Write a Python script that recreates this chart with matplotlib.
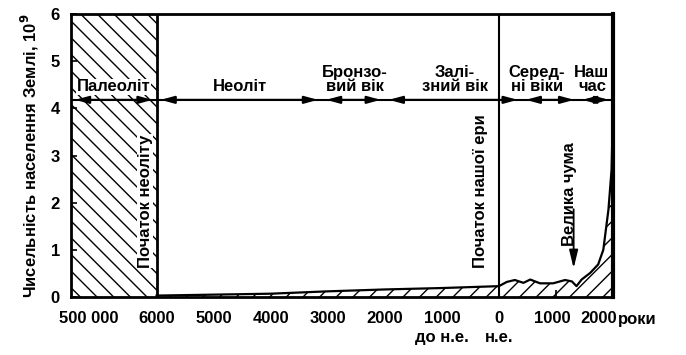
import matplotlib
matplotlib.use("Agg")
import matplotlib.pyplot as plt

plt.rcParams['font.family'] = ['Liberation Sans', 'DejaVu Sans']
plt.rcParams['font.weight'] = 'bold'
plt.rcParams['axes.labelweight'] = 'bold'
plt.rcParams['mathtext.default'] = 'bf'
plt.rcParams['hatch.linewidth'] = 1.0

# Population (billions) vs. year (negative = BC)
years = [-6000, -5000, -4000, -3000, -2000, -1000, -500, 0, 140, 280, 430, 550,
         720, 950, 1160, 1280, 1360, 1450, 1600, 1740, 1830, 1920, 1975, 1990, 2000]
pop = [0.03, 0.05, 0.07, 0.12, 0.16, 0.19, 0.21, 0.23, 0.32, 0.36, 0.30, 0.37,
       0.29, 0.29, 0.36, 0.33, 0.23, 0.37, 0.51, 0.69, 1.0, 1.85, 2.7, 3.5, 4.2]

# axis layout: compressed paleolithic strip drawn as [-7500, -6000]
label_pos = [-7184, -6000, -5000, -4000, -3000, -2000, -1000, 0, 930, 1755]
tick_labels = ['500 000', '6000', '5000', '4000', '3000', '2000', '1000', '0', '1000', '2000']
tick_marks = [-5000, -4000, -3000, -2000, -1000, 1000]
y_ticks = [0, 1, 2, 3, 4, 5, 6]

# periods: (label, start, end, x for label)
periods = [
    ('Палеоліт', -7500, -6000, -6750),
    ('Неоліт', -6000, -3100, -4540),
    ('Бронзо-\nвий вік', -3100, -2000, -2520),
    ('Залі-\nзний вік', -2000, 400, -770),
    ('Серед-\nні віки', 400, 1390, 670),
    ('Наш\nчас', 1390, 2000, 1630),
]
period_y = 4.18

FS = 12
fig = plt.figure(figsize=(6.86, 3.55), dpi=100)
ax = fig.add_axes([71/686, 1-297/355, (613-71)/686, (297-14)/355])
ax.set_xlim(-7500, 2000)
ax.set_ylim(0, 6)

# paleolithic hatched strip
ax.axvspan(-7500, -6000, facecolor='none', edgecolor='black', hatch='\\\\', linewidth=0)
# area under population curve
ax.fill_between(years, pop, 0, facecolor='white', edgecolor='black', hatch='//', linewidth=0)
ax.plot(years, pop, color='black', lw=1.6)

ax.axvline(-6000, color='black', lw=2)
ax.axvline(0, color='black', lw=1.5)

wb = dict(facecolor='white', edgecolor='none', pad=0.5)

# period line with arrows
ax.axhline(period_y, color='black', lw=1.5)
for name, s, e, xl in periods:
    ax.annotate('', xy=(e, period_y), xytext=(s, period_y),
                arrowprops=dict(arrowstyle='<|-|>,head_length=0.8,head_width=0.22',
                                color='black', lw=1.5, shrinkA=3, shrinkB=3,
                                mutation_scale=10))
    ax.text(xl, period_y + 0.12, name, ha='center', va='bottom', fontsize=FS,
            linespacing=0.95, bbox=wb if name == 'Палеоліт' else None)

# vertical annotations
ax.text(-6070, 0.62, 'Початок неоліту', rotation=90, ha='right', va='bottom',
        fontsize=FS, bbox=wb)
ax.text(-190, 0.62, 'Початок нашої ери', rotation=90, ha='right', va='bottom', fontsize=FS)
ax.text(1361, 2.19, 'Велика чума', rotation=90, ha='right', va='center', fontsize=FS)
ax.annotate('', xy=(1310, 0.55), xytext=(1310, 1.92),
            arrowprops=dict(arrowstyle='-|>,head_length=0.9,head_width=0.22',
                            color='black', lw=1.3, mutation_scale=12))

ax.set_xticks(label_pos)
ax.set_xticklabels(tick_labels)
ax.set_xticks(tick_marks, minor=True)
ax.set_yticks(y_ticks)
ax.tick_params(axis='x', which='major', length=0, pad=10, labelsize=FS)
ax.tick_params(axis='x', which='minor', direction='in', length=5, width=1.2)
ax.tick_params(axis='y', direction='in', length=4, width=1.2, pad=8, labelsize=FS)

for side in ['left', 'top', 'bottom']:
    ax.spines[side].set_linewidth(2)
ax.spines['right'].set_linewidth(3)

ax.set_ylabel('Чисельність населення Землі, 10$^9$', fontsize=12, fontweight='bold')
ax.yaxis.set_label_coords(-0.055, 0.5)

xt = ax.get_xaxis_transform()
ax.text(2088, -0.0954, 'роки', transform=xt, ha='left', va='baseline', fontsize=FS)
ax.text(-1000, -0.159, 'до н.е.', transform=xt, ha='center', va='baseline', fontsize=FS)
ax.text(0, -0.159, 'н.е.', transform=xt, ha='center', va='baseline', fontsize=FS)

fig.savefig('out.png', dpi=100)
